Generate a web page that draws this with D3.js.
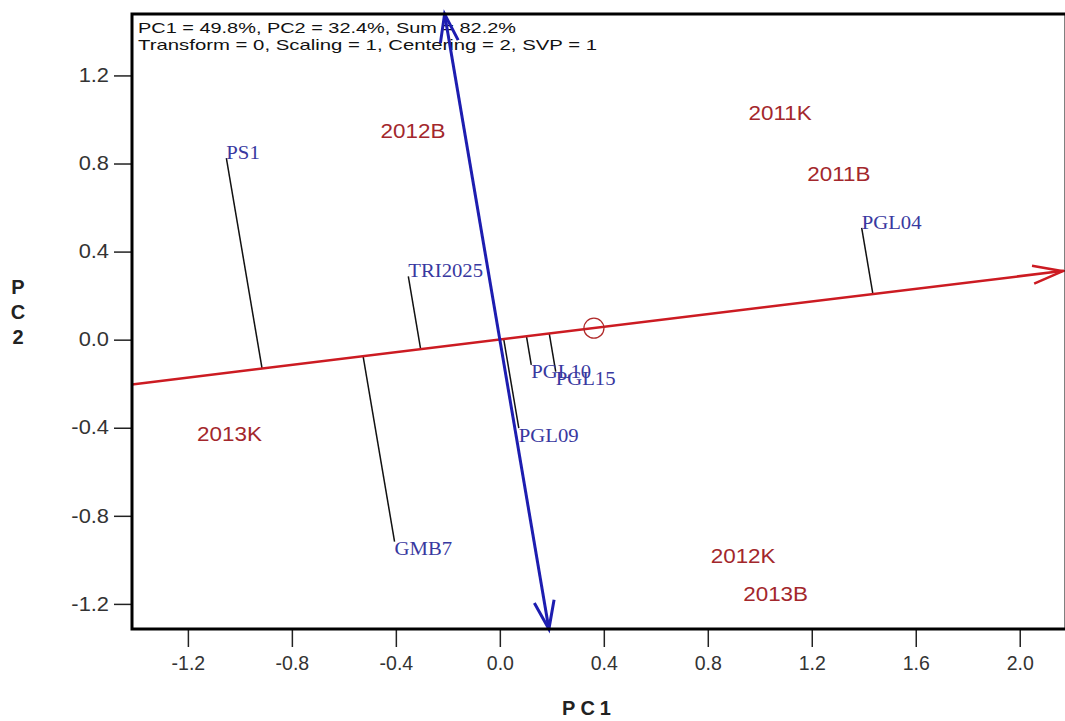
<!DOCTYPE html>
<html>
<head>
<meta charset="utf-8">
<script src="https://cdn.jsdelivr.net/npm/d3@7"></script>
<style>
  body { margin: 0; background: #fff; }
  svg { display: block; }
</style>
</head>
<body>
<svg id="chart" width="1065" height="721"></svg>
<script>
// GGE biplot: environments (red) and genotypes (blue), PC1 vs PC2
const envNames = ["2011B", "2011K", "2012B", "2012K", "2013B", "2013K"];
const envPC1 = [1.304, 1.078, -0.334, 0.936, 1.061, -1.040];
const envPC2 = [0.751, 1.028, 0.947, -0.984, -1.157, -0.430];

const genNames = ["PS1", "TRI2025", "GMB7", "PGL04", "PGL09", "PGL10", "PGL15"];
const genPC1 = [-1.052, -0.352, -0.405, 1.392, 0.073, 0.121, 0.215];
const genPC2 = [0.825, 0.287, -0.917, 0.508, -0.402, -0.114, -0.145];

// average environment coordinate (circle)
const aveEnv = [0.362, 0.052];

const xTicks = [-1.2, -0.8, -0.4, 0.0, 0.4, 0.8, 1.2, 1.6, 2.0];
const yTicks = [-1.2, -0.8, -0.4, 0.0, 0.4, 0.8, 1.2];

const titleLines = [
  "PC1 = 49.8%, PC2 = 32.4%, Sum = 82.2%",
  "Transform = 0, Scaling = 1, Centering = 2, SVP = 1"
];

const svg = d3.select("#chart");
const mLeft = 132, mRight = 1066, mTop = 14, mBottom = 629;

const x = d3.scaleLinear().domain([-1.415, 2.178]).range([mLeft, mRight]);
const y = d3.scaleLinear().domain([-1.314, 1.479]).range([mBottom, mTop]);

const fmt = d => d3.format(".1f")(d).replace("\u2212", "-");

const stretch = 1.15;
function widen(sel, k) {
  sel.each(function () {
    const w = this.getComputedTextLength();
    d3.select(this).attr("textLength", w * k).attr("lengthAdjust", "spacingAndGlyphs");
  });
}

// axes
const xAxis = svg.append("g")
  .attr("transform", `translate(0,${mBottom})`)
  .call(d3.axisBottom(x).tickValues(xTicks).tickFormat(fmt).tickSizeOuter(0).tickSize(18).tickPadding(9));
xAxis.select(".domain").remove();
xAxis.selectAll("line").attr("stroke", "#222").attr("stroke-width", 1.5);
xAxis.selectAll("text")
  .attr("font-family", "Liberation Sans, Arial, sans-serif")
  .attr("font-size", 19.5).attr("fill", "#333");

const yAxis = svg.append("g")
  .attr("transform", `translate(${mLeft},0)`)
  .call(d3.axisLeft(y).tickValues(yTicks).tickFormat(fmt).tickSizeOuter(0).tickSize(18).tickPadding(5));
yAxis.select(".domain").remove();
yAxis.selectAll("line").attr("stroke", "#222").attr("stroke-width", 1.5);
yAxis.selectAll("text")
  .attr("font-family", "Liberation Sans, Arial, sans-serif")
  .attr("font-size", 19.5).attr("fill", "#333");
widen(yAxis.selectAll("text"), 1.12);

// axis titles
svg.append("text")
  .attr("x", 589).attr("y", 715)
  .attr("text-anchor", "middle")
  .attr("font-family", "Liberation Sans, Arial, sans-serif")
  .attr("font-weight", "bold").attr("font-size", 20)
  .attr("letter-spacing", 5)
  .attr("fill", "#222")
  .text("PC1");

svg.append("g").selectAll("text")
  .data(["P", "C", "2"])
  .join("text")
  .attr("x", 18).attr("y", (d, i) => 294 + i * 25)
  .attr("text-anchor", "middle")
  .attr("font-family", "Liberation Sans, Arial, sans-serif")
  .attr("font-weight", "bold").attr("font-size", 20)
  .attr("fill", "#222")
  .text(d => d);

const plot = svg.append("g");

// title text inside frame
plot.selectAll(".ttl")
  .data(titleLines)
  .join("text")
  .attr("class", "ttl")
  .attr("x", 138).attr("y", (d, i) => 32.5 + i * 17.5)
  .attr("font-family", "Liberation Sans, Arial, sans-serif")
  .attr("font-size", 15).attr("fill", "#111")
  .attr("textLength", (d, i) => i === 0 ? 378 : 459)
  .attr("lengthAdjust", "spacingAndGlyphs")
  .text(d => d);

// ATC abscissa direction (unit, data space)
const len = Math.hypot(aveEnv[0], aveEnv[1]);
const ux = aveEnv[0] / len, uy = aveEnv[1] / len;
const [x0, x1] = x.domain();
const [y0, y1] = y.domain();
const slope = uy / ux;

// projection lines from genotypes to ATC abscissa
const genData = genNames.map((n, i) => {
  const t = genPC1[i] * ux + genPC2[i] * uy;
  return { name: n, gx: genPC1[i], gy: genPC2[i], fx: t * ux, fy: t * uy, above: genPC2[i] > t * uy };
});

plot.selectAll(".proj")
  .data(genData)
  .join("line")
  .attr("x1", d => x(d.gx)).attr("y1", d => y(d.gy))
  .attr("x2", d => x(d.fx)).attr("y2", d => y(d.fy))
  .attr("stroke", "#111").attr("stroke-width", 1.5);

// red abscissa line (through origin and average environment)
const redColor = "#cc1b22";
const rA = [x0, x0 * slope], rB = [x1, x1 * slope];
plot.append("line")
  .attr("x1", x(rA[0])).attr("y1", y(rA[1]))
  .attr("x2", x(rB[0]) - 2).attr("y2", y(rB[1]))
  .attr("stroke", redColor).attr("stroke-width", 2.5);

// blue ordinate line (perpendicular through origin)
const blueColor = "#1d1db0";
const bTop = [-uy / ux * y1, y1], bBot = [-uy / ux * y0, y0];
plot.append("line")
  .attr("x1", x(bTop[0])).attr("y1", y(bTop[1]))
  .attr("x2", x(bBot[0])).attr("y2", y(bBot[1]))
  .attr("stroke", blueColor).attr("stroke-width", 3);

function arrowHead(tip, from, color, w, L, H) {
  const tx = x(tip[0]), ty = y(tip[1]);
  const fx = x(from[0]), fy = y(from[1]);
  const d = Math.hypot(tx - fx, ty - fy);
  const dx = (tx - fx) / d, dy = (ty - fy) / d;
  const bx = tx - dx * L, by = ty - dy * L;
  const p = d3.path();
  p.moveTo(bx - dy * H, by + dx * H);
  p.lineTo(tx, ty);
  p.lineTo(bx + dy * H, by - dx * H);
  plot.append("path").attr("d", p.toString())
    .attr("fill", "none").attr("stroke", color).attr("stroke-width", w)
    .attr("stroke-linejoin", "miter");
}
arrowHead([x1 - 0.012, (x1 - 0.012) * slope], [0, 0], redColor, 2.5, 30, 9);
arrowHead(bTop, [0, 0], blueColor, 3, 28, 9);
arrowHead(bBot, [0, 0], blueColor, 3, 28, 10);

// average environment circle
plot.append("circle")
  .attr("cx", x(aveEnv[0])).attr("cy", y(aveEnv[1]))
  .attr("r", 10)
  .attr("fill", "none").attr("stroke", "#b02a2a").attr("stroke-width", 1.3);

// environment labels
const envText = plot.selectAll(".env")
  .data(envNames)
  .join("text")
  .attr("class", "env")
  .attr("x", (d, i) => x(envPC1[i])).attr("y", (d, i) => y(envPC2[i]))
  .attr("dy", "0.36em")
  .attr("text-anchor", "middle")
  .attr("font-family", "Liberation Sans, Arial, sans-serif")
  .attr("font-size", 19.5).attr("fill", "#a3272c")
  .text(d => d);
widen(envText, stretch);

// genotype labels
const genText = plot.selectAll(".gen")
  .data(genData)
  .join("text")
  .attr("class", "gen")
  .attr("x", d => x(d.gx)).attr("y", d => y(d.gy))
  .attr("dy", d => d.above ? "0.05em" : "0.75em")
  .attr("font-family", "Liberation Serif, Times New Roman, serif")
  .attr("font-size", 18).attr("fill", "#3838a0")
  .text(d => d.name);
widen(genText, stretch);

// frame
svg.append("rect")
  .attr("x", mLeft).attr("y", mTop)
  .attr("width", mRight - mLeft).attr("height", mBottom - mTop)
  .attr("fill", "none").attr("stroke", "#000").attr("stroke-width", 3);
</script>
</body>
</html>
